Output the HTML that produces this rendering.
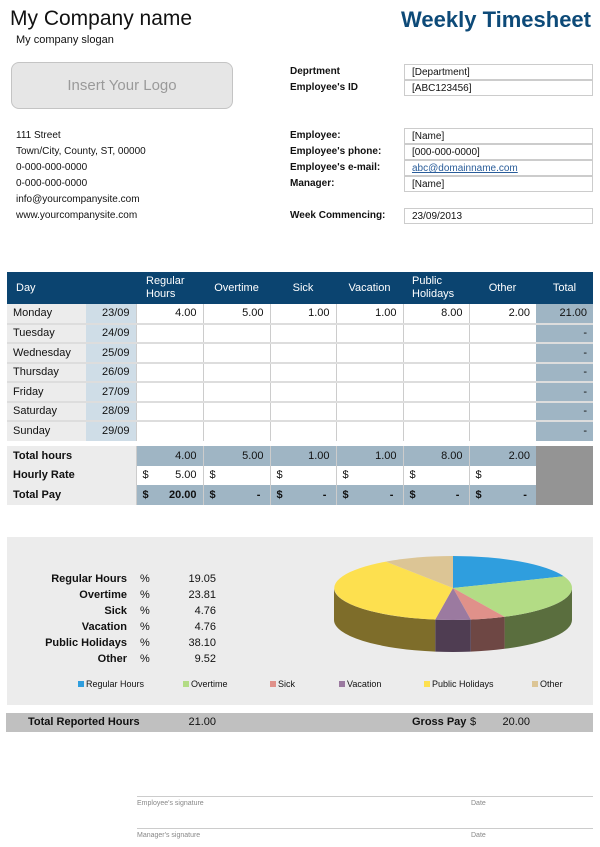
<!DOCTYPE html>
<html><head><meta charset="utf-8"><style>
*{margin:0;padding:0;box-sizing:border-box}
body{width:600px;height:847px;background:#fff;font-family:"Liberation Sans",Arial,sans-serif;color:#111;position:relative;overflow:hidden}
.a{position:absolute;white-space:nowrap}
.lbl{font-size:10px;font-weight:bold}
.box{position:absolute;left:404px;width:189px;height:16px;border:1px solid #ccc;font-size:10px;padding:2px 0 0 7px}
.ad{font-size:10px;left:16px}
table{position:absolute;left:7px;border-collapse:collapse;table-layout:fixed;font-size:11px}
td{padding:0 6px;overflow:hidden}
.h td{background:#0b4470;color:#fff;height:32px;font-size:11px;line-height:13px}
.r td{height:19.5px;border-bottom:2px solid #ddd}
.r td.v{border-left:1px solid #ccc;text-align:right;background:#fff}
.r td.d{background:#ececec}
.r td.dt{background:#cfdde7;text-align:right}
.r td.t{background:#9fb5c4;text-align:right}
.s td{height:19.5px;font-weight:bold}
.s td.l{background:#ececec}
.s td.b{background:#9fb5c4;border-left:1px solid #ccc;text-align:right}
.s td.w{background:#fff;border-left:1px solid #ccc;text-align:right}
.s td.g{background:#949494}
.sm{font-size:11px}
.lg{font-size:9px;top:679px}
.lg i{display:inline-block;width:6px;height:6px;margin-right:2px;vertical-align:0}
</style></head><body>
<div class="a" style="left:10px;top:7px;font-size:21px">My Company name</div>
<div class="a" style="right:9px;top:7px;font-size:22px;font-weight:bold;color:#0d4a78">Weekly Timesheet</div>
<div class="a" style="left:16px;top:34px;font-size:11px">My company slogan</div>
<div class="a" style="left:11px;top:62px;width:222px;height:47px;border:1px solid #c4c4c4;border-radius:8px;background:#e6e6e6;color:#9a9a9a;font-size:15px;text-align:center;line-height:45px">Insert Your Logo</div>

<div class="a ad" style="top:130px">111 Street</div>
<div class="a ad" style="top:146px">Town/City, County, ST, 00000</div>
<div class="a ad" style="top:162px">0-000-000-0000</div>
<div class="a ad" style="top:178px">0-000-000-0000</div>
<div class="a ad" style="top:194px">info@yourcompanysite.com</div>
<div class="a ad" style="top:210px">www.yourcompanysite.com</div>

<div class="a lbl" style="left:290px;top:66px">Deprtment</div>
<div class="a lbl" style="left:290px;top:82px">Employee's ID</div>
<div class="box" style="top:64px">[Department]</div>
<div class="box" style="top:80px">[ABC123456]</div>
<div class="a lbl" style="left:290px;top:130px">Employee:</div>
<div class="a lbl" style="left:290px;top:146px">Employee's phone:</div>
<div class="a lbl" style="left:290px;top:162px">Employee's e-mail:</div>
<div class="a lbl" style="left:290px;top:178px">Manager:</div>
<div class="box" style="top:128px">[Name]</div>
<div class="box" style="top:144px">[000-000-0000]</div>
<div class="box" style="top:160px;color:#2a5d9a;text-decoration:underline">abc@domainname.com</div>
<div class="box" style="top:176px">[Name]</div>
<div class="a lbl" style="left:290px;top:210px">Week Commencing:</div>
<div class="box" style="top:208px">23/09/2013</div>

<table style="top:272px;width:586px">
<colgroup><col style="width:79px"><col style="width:50px"><col style="width:67px"><col style="width:67px"><col style="width:66px"><col style="width:67px"><col style="width:66px"><col style="width:67px"><col style="width:57px"></colgroup>
<tr class="h"><td style="padding-left:9px">Day</td><td></td><td style="padding-left:10px">Regular<br>Hours</td><td style="text-align:center">Overtime</td><td style="text-align:center">Sick</td><td style="text-align:center">Vacation</td><td style="padding-left:9px">Public<br>Holidays</td><td style="text-align:center">Other</td><td style="text-align:center">Total</td></tr>
<tr class="r"><td class="d">Monday</td><td class="dt">23/09</td><td class="v">4.00</td><td class="v">5.00</td><td class="v">1.00</td><td class="v">1.00</td><td class="v">8.00</td><td class="v">2.00</td><td class="t">21.00</td></tr>
<tr class="r"><td class="d">Tuesday</td><td class="dt">24/09</td><td class="v"></td><td class="v"></td><td class="v"></td><td class="v"></td><td class="v"></td><td class="v"></td><td class="t">-</td></tr>
<tr class="r"><td class="d">Wednesday</td><td class="dt">25/09</td><td class="v"></td><td class="v"></td><td class="v"></td><td class="v"></td><td class="v"></td><td class="v"></td><td class="t">-</td></tr>
<tr class="r"><td class="d">Thursday</td><td class="dt">26/09</td><td class="v"></td><td class="v"></td><td class="v"></td><td class="v"></td><td class="v"></td><td class="v"></td><td class="t">-</td></tr>
<tr class="r"><td class="d">Friday</td><td class="dt">27/09</td><td class="v"></td><td class="v"></td><td class="v"></td><td class="v"></td><td class="v"></td><td class="v"></td><td class="t">-</td></tr>
<tr class="r"><td class="d">Saturday</td><td class="dt">28/09</td><td class="v"></td><td class="v"></td><td class="v"></td><td class="v"></td><td class="v"></td><td class="v"></td><td class="t">-</td></tr>
<tr class="r"><td class="d" style="border-bottom:0">Sunday</td><td class="dt" style="border-bottom:0">29/09</td><td class="v" style="border-bottom:0"></td><td class="v" style="border-bottom:0"></td><td class="v" style="border-bottom:0"></td><td class="v" style="border-bottom:0"></td><td class="v" style="border-bottom:0"></td><td class="v" style="border-bottom:0"></td><td class="t" style="border-bottom:0">-</td></tr>
</table>

<table style="top:446px;width:586px">
<colgroup><col style="width:129px"><col style="width:67px"><col style="width:67px"><col style="width:66px"><col style="width:67px"><col style="width:66px"><col style="width:67px"><col style="width:57px"></colgroup>
<tr class="s"><td class="l">Total hours</td><td class="b" style="font-weight:normal">4.00</td><td class="b" style="font-weight:normal">5.00</td><td class="b" style="font-weight:normal">1.00</td><td class="b" style="font-weight:normal">1.00</td><td class="b" style="font-weight:normal">8.00</td><td class="b" style="font-weight:normal">2.00</td><td class="g" rowspan="3"></td></tr>
<tr class="s"><td class="l">Hourly Rate</td><td class="w" style="font-weight:normal"><span style="float:left">$</span>5.00</td><td class="w" style="font-weight:normal;text-align:left">$</td><td class="w" style="font-weight:normal;text-align:left">$</td><td class="w" style="font-weight:normal;text-align:left">$</td><td class="w" style="font-weight:normal;text-align:left">$</td><td class="w" style="font-weight:normal;text-align:left">$</td></tr>
<tr class="s"><td class="l">Total Pay</td><td class="b"><span style="float:left">$</span>20.00</td><td class="b"><span style="float:left">$</span>-&nbsp;</td><td class="b"><span style="float:left">$</span>-&nbsp;</td><td class="b"><span style="float:left">$</span>-&nbsp;</td><td class="b"><span style="float:left">$</span>-&nbsp;</td><td class="b"><span style="float:left">$</span>-&nbsp;</td></tr>
</table>

<div class="a" style="left:7px;top:537px;width:586px;height:168px;background:#ececec"></div>
<div class="a sm" style="left:0;width:127px;top:571px;text-align:right;font-weight:bold;line-height:16px">Regular Hours<br>Overtime<br>Sick<br>Vacation<br>Public Holidays<br>Other</div>
<div class="a sm" style="left:140px;top:571px;line-height:16px">%<br>%<br>%<br>%<br>%<br>%</div>
<div class="a sm" style="left:150px;width:66px;top:571px;text-align:right;line-height:16px">19.05<br>23.81<br>4.76<br>4.76<br>38.10<br>9.52</div>

<svg class="a" style="left:0;top:0" width="600" height="847">
<g>
<path d="M572 588 A119 32 0 0 1 504.6 616.8 L504.6 648.8 A119 32 0 0 0 572 620 Z" fill="#5a6e3e"/>
<path d="M504.6 616.8 A119 32 0 0 1 470.8 619.6 L470.8 651.6 A119 32 0 0 0 504.6 648.8 Z" fill="#6e4744"/>
<path d="M470.8 619.6 A119 32 0 0 1 435.2 619.6 L435.2 651.6 A119 32 0 0 0 470.8 651.6 Z" fill="#4f3d52"/>
<path d="M435.2 619.6 A119 32 0 0 1 334 588 L334 620 A119 32 0 0 0 435.2 651.6 Z" fill="#7e6d2a"/>
<path d="M453 588 L453 556 A119 32 0 0 1 563.8 576.3 Z" fill="#2f9ede"/>
<path d="M453 588 L563.8 576.3 A119 32 0 0 1 504.6 616.8 Z" fill="#b3dc85"/>
<path d="M453 588 L504.6 616.8 A119 32 0 0 1 470.8 619.6 Z" fill="#e0918a"/>
<path d="M453 588 L470.8 619.6 A119 32 0 0 1 435.2 619.6 Z" fill="#9b7aa0"/>
<path d="M453 588 L435.2 619.6 A119 32 0 0 1 385.9 561.6 Z" fill="#fde04f"/>
<path d="M453 588 L385.9 561.6 A119 32 0 0 1 453 556 Z" fill="#dcc595"/>
</g>
</svg>

<div class="a lg" style="left:78px"><i style="background:#2f9ede"></i>Regular Hours</div>
<div class="a lg" style="left:183px"><i style="background:#b3dc85"></i>Overtime</div>
<div class="a lg" style="left:270px"><i style="background:#e0918a"></i>Sick</div>
<div class="a lg" style="left:339px"><i style="background:#9b7aa0"></i>Vacation</div>
<div class="a lg" style="left:424px"><i style="background:#fde04f"></i>Public Holidays</div>
<div class="a lg" style="left:532px"><i style="background:#dcc595"></i>Other</div>

<div class="a" style="left:6px;top:713px;width:587px;height:19px;background:#c0c0c0"></div>
<div class="a sm" style="left:28px;top:716px;font-weight:bold">Total Reported Hours</div>
<div class="a sm" style="left:150px;width:66px;top:716px;text-align:right">21.00</div>
<div class="a sm" style="left:412px;top:716px;font-weight:bold">Gross Pay</div>
<div class="a sm" style="left:470px;top:716px">$</div>
<div class="a sm" style="left:480px;width:50px;top:716px;text-align:right">20.00</div>

<div class="a" style="left:137px;top:796px;width:456px;height:1px;background:#ccc"></div>
<div class="a" style="left:137px;top:800px;font-size:7px;color:#888">Employee's signature</div>
<div class="a" style="left:471px;top:800px;font-size:7px;color:#888">Date</div>
<div class="a" style="left:137px;top:828px;width:456px;height:1px;background:#ccc"></div>
<div class="a" style="left:137px;top:832px;font-size:7px;color:#888">Manager's signature</div>
<div class="a" style="left:471px;top:832px;font-size:7px;color:#888">Date</div>
</body></html>
